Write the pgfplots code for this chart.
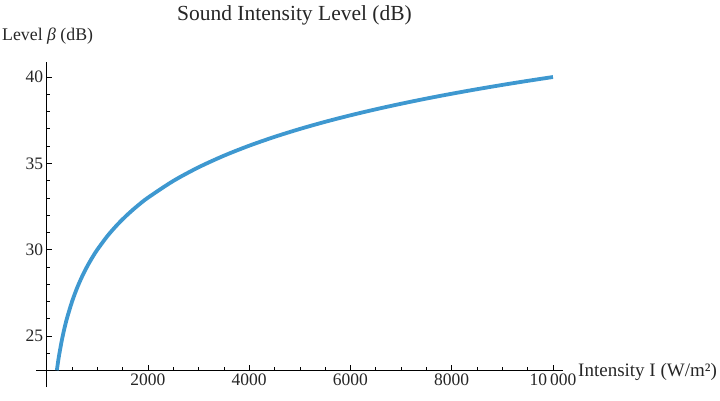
\documentclass[border=0pt]{standalone}
\usepackage{pgfplots}
\pgfplotsset{compat=1.18}
\usepackage{fontspec}
\setmainfont{Liberation Serif}
\definecolor{curveblue}{RGB}{62,152,208}
\begin{document}
\begin{tikzpicture}
\begin{axis}[
  at={(0,0)}, anchor=south west,
  scale only axis,
  width=527bp, height=325bp,
  xmin=-212, xmax=10198,
  ymin=22.04, ymax=40.87,
  axis y line=middle,
  axis x line=bottom,
  axis x line shift=-16.5bp,
  axis line style={-, black, line width=0.8pt},
  tick align=inside,
  major tick length=5bp,
  minor tick length=3bp,
  tick style={black, line width=0.6pt},
  scaled x ticks=false,
  scaled y ticks=false,
  xtick={2000,4000,6000,8000,10000},
  xticklabels={2000,4000,6000,8000,10\,000},
  minor xtick={500,1000,1500,2500,3000,3500,4500,5000,5500,6500,7000,7500,8500,9000,9500},
  ytick={25,30,35,40},
  minor ytick={23,24,26,27,28,29,31,32,33,34,36,37,38,39},
  /pgf/number format/assume math mode=true,
  ticklabel style={font=\fontsize{17.5bp}{20bp}\selectfont, text=black!85},
  clip=false,
]
\addplot[curveblue, line width=3.8bp, smooth] coordinates {
(200,23.010) (225,23.522) (250,23.979) (300,24.771) (350,25.441) (400,26.021)
(500,26.990) (600,27.782) (700,28.451) (800,29.031) (900,29.542) (1000,30.000)
(1200,30.792) (1400,31.461) (1600,32.041) (1800,32.553) (2000,33.010)
(2500,33.979) (3000,34.771) (3500,35.441) (4000,36.021) (4500,36.532)
(5000,36.990) (5500,37.404) (6000,37.782) (6500,38.129) (7000,38.451)
(7500,38.751) (8000,39.031) (8500,39.294) (9000,39.542) (9500,39.777)
(10000,40.000)
};
\end{axis}
\node[anchor=base west, inner sep=0pt, font=\fontsize{19bp}{22bp}\selectfont, text=black!85] at (542bp,11bp) {Intensity I (W/m²)};
\node[anchor=base west, inner sep=0pt, font=\fontsize{17.8bp}{20bp}\selectfont, text=black!85] at (-34bp,346bp) {Level \textit{β} (dB)};
\node[anchor=base, inner sep=0pt, font=\fontsize{21.5bp}{24bp}\selectfont, text=black!85] at (258.5bp,366bp) {Sound Intensity Level (dB)};
\pgfresetboundingbox
\path (-36bp,-14bp) rectangle (684bp,387bp);
\end{tikzpicture}
\end{document}
